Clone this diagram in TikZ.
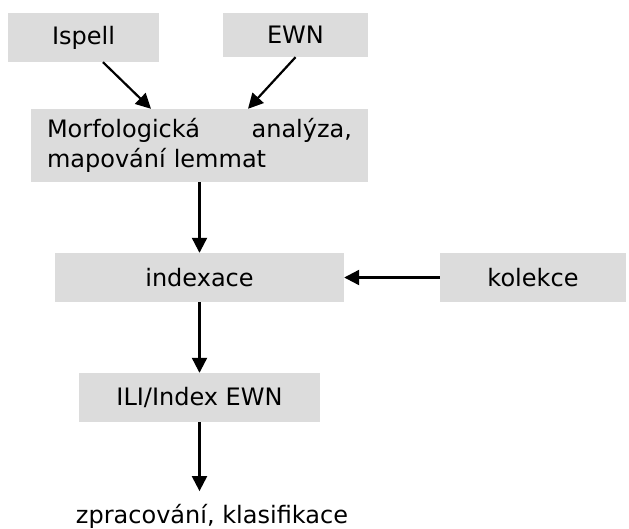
\documentclass[tikz,border=0pt]{standalone}
\usepackage{fontspec}
\setmainfont{DejaVu Sans}
\usetikzlibrary{arrows.meta}
\definecolor{boxgray}{RGB}{220,220,220}

\begin{document}
\begin{tikzpicture}[x=1pt, y=-1pt, >={Triangle[length=15pt, width=15pt]},
    font=\fontsize{24}{30}\selectfont,
    box/.style={fill=boxgray, inner sep=0pt, minimum height=49pt},
    flow/.style={->, line width=2.2pt}]
    \useasboundingbox (0,0) rectangle (629,528);
    % sources
    \node[box, minimum width=151pt] (ispell) at (83.5, 37.5) {Ispell};
    \node[box, minimum width=145pt, minimum height=44pt] (ewn) at (295.5, 35) {EWN};
    \node[box, text width=305pt, inner xsep=16pt, minimum height=73pt, align=left] (morfo) at (199.5, 145.5)
      {Morfologická\hfill analýza,\\mapování lemmat};
    \node[box, minimum width=289pt] (index) at (199.5, 277.5) {indexace};
    \node[box, minimum width=186pt] (kolekce) at (533, 277.5) {kolekce};
    \node[box, minimum width=241pt] (ili) at (199.5, 397.5) {ILI/Index EWN};
    \node[anchor=base, inner sep=0pt] (zprac) at (212, 523) {zpracování, klasifikace};
    % arrows
    \draw[flow] ([xshift=19.5pt]ispell.south) -- ([xshift=-48.5pt]morfo.north);
    \draw[flow] (ewn.south) -- ([xshift=48.5pt]morfo.north);
    \draw[flow] (morfo.south) -- (index.north);
    \draw[flow] (kolekce.west) -- (index.east);
    \draw[flow] (index.south) -- (ili.north);
    \draw[flow] (ili.south) -- ([yshift=12.5pt]ili.south |- zprac.north);
  \end{tikzpicture}
\end{document}
